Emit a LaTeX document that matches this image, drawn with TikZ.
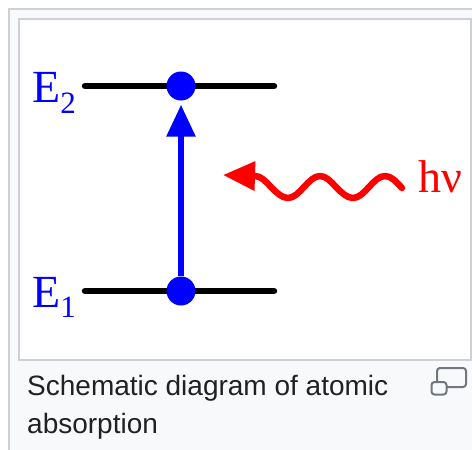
\documentclass[tikz,border=0pt]{standalone}
\usepackage{fontspec}
\setmainfont{Liberation Serif}
\newfontfamily\capfont{Liberation Sans}
\usetikzlibrary{arrows.meta}
\definecolor{pureblue}{HTML}{0000FF}
\definecolor{purered}{HTML}{FF0000}
\definecolor{thumbbg}{HTML}{F8F9FA}
\definecolor{thumbborder}{HTML}{CDD0D4}
\definecolor{captext}{HTML}{202122}
\definecolor{icongrey}{HTML}{72777D}
\tikzset{
  level/.style={line width=6.5pt, line cap=round, black},
  electron/.style={circle, fill=pureblue, inner sep=0pt, minimum size=29pt},
  transition/.style={line width=6pt, pureblue, -{Triangle[length=32pt,width=28pt]}, shorten >=4pt},
  photon/.style={line width=6.5pt, purered, line cap=round, line join=round, -{Triangle[length=32pt,width=28pt]}},
  elabel/.style={pureblue, inner sep=0pt, anchor=base west},
  caption/.style={captext, inner sep=0pt, anchor=base west, font=\capfont\fontsize{28}{38}\selectfont},
  boxline/.style={thumbborder, line width=1.5pt},
  iconline/.style={icongrey, line width=2pt, rounded corners=3pt}
}
\begin{document}
\begin{tikzpicture}[x=1pt,y=-1pt]
\useasboundingbox (0,0) rectangle (472,450);
\clip (0,0) rectangle (472,450);
\fill[white] (0,0) rectangle (472,450);
% thumb frame
\draw[boxline, fill=thumbbg] (8.75,8.75) rectangle (490,470);
\draw[boxline, fill=white] (19,19) rectangle (471,360);
% energy levels
\coordinate (l2a) at (85,86);
\coordinate (l2b) at (274,86);
\coordinate (l1a) at (85,291);
\coordinate (l1b) at (274,291);
\draw[level] (l2a) -- (l2b);
\draw[level] (l1a) -- (l1b);
% labels
\node[elabel] (e2) at (32,102) {\fontsize{46}{46}\selectfont E\raisebox{-11pt}{\fontsize{31}{31}\selectfont 2}};
\node[elabel] (e1) at (32,307) {\fontsize{46}{46}\selectfont E\raisebox{-10pt}{\fontsize{31}{31}\selectfont 1}};
% electrons and transition
\node[electron] (d2) at (181,86) {};
\node[electron] (d1) at (181,291) {};
\draw[transition] (d1) -- (d2);
% photon
\coordinate (wstart) at (402,188);
\coordinate (wtip) at (223,175);
\draw[photon] (wstart) sin (385,176) cos (369,187) sin (353,198) cos (336,187)
  sin (320,176) cos (304,187) sin (288,198) cos (271,187) sin (255,176) -- (wtip);
\node[purered, inner sep=0pt, anchor=base west] (hnu) at (418,192) {\fontsize{46}{46}\selectfont hν};
% caption
\node[caption] (cap1) at (27,395) {Schematic diagram of atomic};
\node[caption] (cap2) at (27,433) {absorption};
% magnify icon
\draw[iconline] (437,368) rectangle (466,387);
\draw[iconline, fill=thumbbg] (431.5,382) rectangle (446.5,394.5);
\end{tikzpicture}
\end{document}
